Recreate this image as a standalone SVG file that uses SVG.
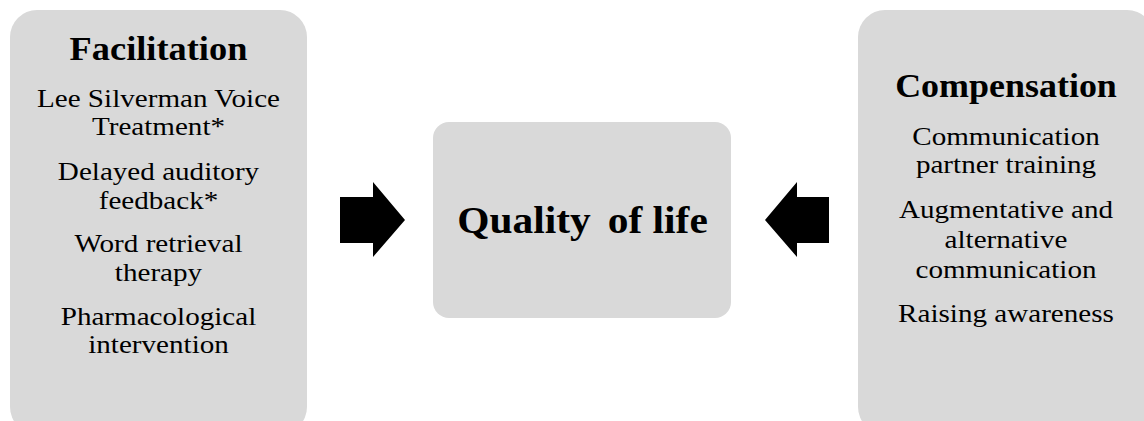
<svg xmlns="http://www.w3.org/2000/svg" width="1144" height="421" viewBox="0 0 1144 421">
<style>
.box{fill:#d9d9d9;}
.t{font-family:"Liberation Serif","Times New Roman",serif;font-size:26px;fill:#000;text-anchor:middle;}
.h{font-family:"Liberation Serif","Times New Roman",serif;font-size:34px;font-weight:bold;fill:#000;text-anchor:middle;}
.q{font-family:"Liberation Serif","Times New Roman",serif;font-size:37px;font-weight:bold;fill:#000;text-anchor:middle;}
.arrow{fill:#000;}
</style>
<rect width="1144" height="421" fill="#fff"/>
<g id="facilitation">
<rect class="box" x="10" y="10" width="297" height="424" rx="27" ry="27"/>
<g transform="translate(158.5 0) scale(1.07 1)"><text class="h" x="0" y="60">Facilitation</text></g>
<g transform="translate(158.5 0) scale(1.12 1)">
<text class="t" x="0" y="107">Lee Silverman Voice</text>
<text class="t" x="0" y="135">Treatment*</text>
<text class="t" x="0" y="180">Delayed auditory</text>
<text class="t" x="0" y="209">feedback*</text>
<text class="t" x="0" y="252">Word retrieval</text>
<text class="t" x="0" y="281">therapy</text>
<text class="t" x="0" y="325">Pharmacological</text>
<text class="t" x="0" y="353">intervention</text>
</g>
</g>
<g id="quality">
<rect class="box" x="433" y="122" width="298" height="196" rx="16" ry="16"/>
<g transform="translate(582.5 0) scale(1.12 1)"><text class="q" x="0" y="233">Quality <tspan dx="6">of life</tspan></text></g>
</g>
<g id="compensation">
<rect class="box" x="858" y="10" width="296" height="424" rx="27" ry="27"/>
<g transform="translate(1006 0) scale(1.09 1)"><text class="h" x="0" y="97" style="font-size:33px">Compensation</text></g>
<g transform="translate(1006 0) scale(1.12 1)">
<text class="t" x="0" y="145">Communication</text>
<text class="t" x="0" y="173">partner training</text>
<text class="t" x="0" y="218">Augmentative and</text>
<text class="t" x="0" y="248">alternative</text>
<text class="t" x="0" y="278">communication</text>
<text class="t" x="0" y="322">Raising awareness</text>
</g>
</g>
<g id="connectors">
<polygon class="arrow" points="340,197 373,197 373,182 405,220 373,257 373,243 340,243"/>
<polygon class="arrow" points="829,197 797,197 797,182 765,220 797,257 797,243 829,243"/>
</g>
</svg>
